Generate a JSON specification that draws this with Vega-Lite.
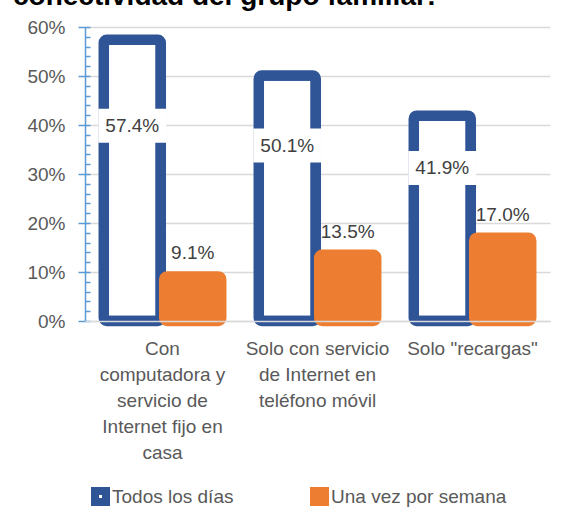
{
  "$schema": "https://vega.github.io/schema/vega-lite/v6.json",
  "width": 465,
  "height": 294,
  "autosize": {"type": "none"},
  "padding": {"left": 85, "top": 27, "right": 16, "bottom": 202},
  "background": "white",
  "config": {
    "view": {"stroke": null},
    "font": "Liberation Sans"
  },
  "title": {
    "text": "conectividad del grupo familiar:",
    "anchor": "start",
    "frame": "group",
    "dx": -72,
    "offset": -15,
    "baseline": "alphabetic",
    "fontSize": 28,
    "fontWeight": "bold",
    "font": "Liberation Sans",
    "color": "#000000"
  },
  "data": {
    "values": [
      {"cat": "Con|computadora y|servicio de|Internet fijo en|casa", "series": "Todos los días", "value": 0.574},
      {"cat": "Con|computadora y|servicio de|Internet fijo en|casa", "series": "Una vez por semana", "value": 0.091},
      {"cat": "Solo con servicio|de Internet en|teléfono móvil", "series": "Todos los días", "value": 0.501},
      {"cat": "Solo con servicio|de Internet en|teléfono móvil", "series": "Una vez por semana", "value": 0.135},
      {"cat": "Solo \"recargas\"", "series": "Todos los días", "value": 0.419},
      {"cat": "Solo \"recargas\"", "series": "Una vez por semana", "value": 0.170}
    ]
  },
  "encoding": {
    "x": {
      "field": "cat",
      "type": "nominal",
      "sort": null,
      "scale": {"paddingInner": 0.22, "paddingOuter": 0.11},
      "axis": {
        "title": null,
        "labelAngle": 0,
        "labelExpr": "split(datum.label, '|')",
        "labelFontSize": 19,
        "labelColor": "#595959",
        "labelLineHeight": 26,
        "labelBaseline": "top",
        "labelPadding": 18,
        "labelLimit": 200,
        "ticks": false,
        "domain": true,
        "domainColor": "#D9D9D9",
        "domainWidth": 1.5,
        "zindex": 1
      }
    },
    "xOffset": {"field": "series", "type": "nominal", "scale": {"paddingInner": 0, "paddingOuter": 0}}
  },
  "layer": [
    {
      "mark": {"type": "bar", "width": 57, "strokeWidth": 10.5, "cornerRadius": 3},
      "encoding": {
        "y": {
          "field": "value",
          "type": "quantitative",
          "scale": {"domain": [0, 0.6], "nice": false},
          "axis": {
            "title": null,
            "values": [0, 0.1, 0.2, 0.3, 0.4, 0.5, 0.6],
            "format": ".0%",
            "labelFontSize": 19,
            "labelColor": "#595959",
            "labelPadding": 13,
            "tickSize": 7,
            "tickColor": "#5B9BD5",
            "tickWidth": 1.5,
            "domainColor": "#5B9BD5",
            "domainWidth": 1.5,
            "grid": true,
            "gridColor": "#D9D9D9",
            "gridWidth": 1.3,
            "orient": "left"
          }
        },
        "fill": {
          "field": "series",
          "type": "nominal",
          "scale": {"domain": ["Todos los días", "Una vez por semana"], "range": ["#FFFFFF", "#ED7D31"]},
          "legend": {
            "title": null,
            "orient": "none",
            "legendX": 6,
            "legendY": 460,
            "direction": "horizontal",
            "symbolType": "square",
            "symbolSize": 121,
            "symbolStrokeWidth": 8,
            "labelFontSize": 19,
            "labelColor": "#595959",
            "labelOffset": 2,
            "labelLimit": 400,
            "columnPadding": 64
          }
        },
        "stroke": {
          "field": "series",
          "type": "nominal",
          "scale": {"domain": ["Todos los días", "Una vez por semana"], "range": ["#2F5597", "#ED7D31"]},
          "legend": {
            "title": null,
            "orient": "none",
            "legendX": 6,
            "legendY": 460,
            "direction": "horizontal",
            "symbolType": "square",
            "symbolSize": 121,
            "symbolStrokeWidth": 8,
            "labelFontSize": 19,
            "labelColor": "#595959",
            "labelOffset": 2,
            "labelLimit": 400,
            "columnPadding": 64
          }
        }
      }
    },
    {
      "transform": [{"filter": "datum.series === 'Una vez por semana'"}],
      "mark": {"type": "text", "dy": -23, "fontSize": 19, "color": "#404040", "baseline": "middle"},
      "encoding": {
        "y": {
          "field": "value",
          "type": "quantitative",
          "scale": {"domain": [0, 0.6], "nice": false},
          "axis": {
            "title": null,
            "orient": "left",
            "values": [0, 0.02, 0.04, 0.06, 0.08, 0.1, 0.12, 0.14, 0.16, 0.18, 0.2, 0.22, 0.24, 0.26, 0.28, 0.3, 0.32, 0.34, 0.36, 0.38, 0.4, 0.42, 0.44, 0.46, 0.48, 0.5, 0.52, 0.54, 0.56, 0.58, 0.6],
            "labels": false,
            "domain": false,
            "grid": false,
            "tickSize": -5,
            "tickColor": "#5B9BD5",
            "tickWidth": 1.5
          }
        },
        "text": {"field": "value", "type": "quantitative", "format": ".1%"}
      }
    },
    {
      "transform": [{"filter": "datum.series === 'Todos los días'"}],
      "mark": {"type": "point", "shape": "M-1,-0.5H1V0.5H-1Z", "size": 4624, "filled": true, "fill": "#FFFFFF", "opacity": 1, "strokeWidth": 0},
      "encoding": {
        "y": {
          "field": "value",
          "type": "quantitative",
          "scale": {"domain": [-0.144, 0.937], "nice": false, "zero": false},
          "axis": null
        }
      }
    },
    {
      "transform": [{"filter": "datum.series === 'Todos los días'"}],
      "mark": {"type": "text", "fontSize": 19, "color": "#404040", "baseline": "middle"},
      "encoding": {
        "y": {
          "field": "value",
          "type": "quantitative",
          "scale": {"domain": [-0.144, 0.937], "nice": false, "zero": false},
          "axis": null
        },
        "text": {"field": "value", "type": "quantitative", "format": ".1%"}
      }
    }
  ],
  "resolve": {"scale": {"y": "independent"}, "axis": {"y": "independent"}}
}
